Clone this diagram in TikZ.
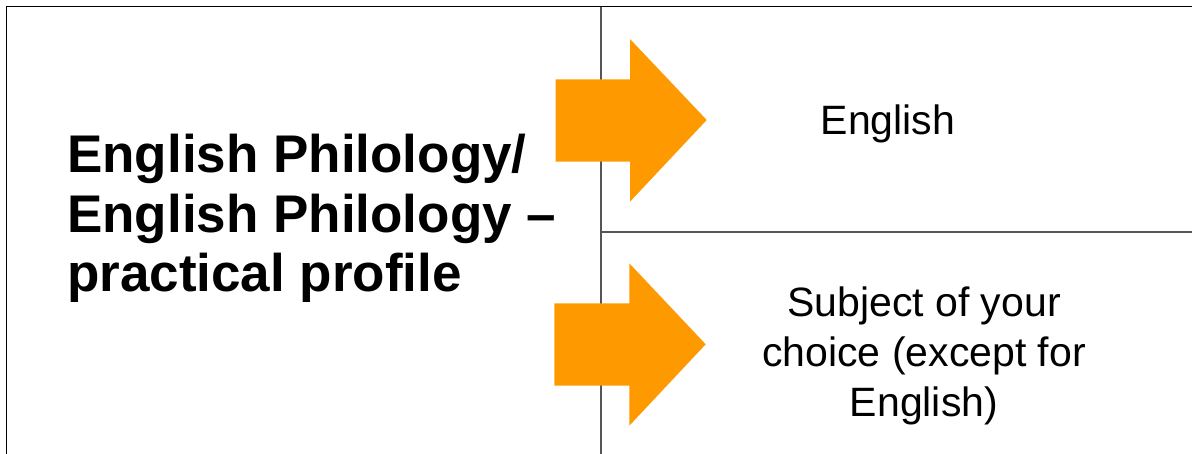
\documentclass[tikz,border=0pt]{standalone}
\usepackage{fontspec}
\setmainfont{Liberation Sans}
\definecolor{arroworange}{RGB}{255,153,0}
\definecolor{rulegray}{RGB}{85,85,85}
\tikzset{
  frameline/.style={draw=black, line width=1.6pt},
  divline/.style={draw=rulegray, line width=1.4pt},
  bigarrow/.style={fill=arroworange, draw=none},
  titletext/.style={inner sep=0pt, align=left, font=\fontsize{53}{59.5}\selectfont\bfseries},
  celltext/.style={inner sep=0pt, align=center, font=\fontsize{41}{49.6}\selectfont},
}
\begin{document}
\begin{tikzpicture}[x=1pt,y=-1pt]
\useasboundingbox (0,0) rectangle (1192,454);
% frame and dividers
\coordinate (tl) at (6.5,6.5);
\coordinate (tr) at (1192,6.5);
\coordinate (bl) at (6.5,454);
\coordinate (mtop) at (601,6.5);
\coordinate (mbot) at (601,454);
\coordinate (hleft) at (601,232);
\coordinate (hright) at (1192,232);
\draw[divline] (mtop) -- (mbot);
\draw[divline] (hleft) -- (hright);
\draw[frameline] (bl) -- (tl) -- (tr);
% arrows
\path[bigarrow] (555.7,79.3) -- (630,79.3) -- (630,39) -- (706.7,120) -- (630,201.7) -- (630,161.7) -- (555.7,161.7) -- cycle;
\path[bigarrow] (554.3,303.3) -- (629.3,303.3) -- (629.3,263.3) -- (705.7,344.3) -- (629.3,425.7) -- (629.3,385.7) -- (554.3,385.7) -- cycle;
% texts (base anchor = baseline of the last line)
\node[titletext, anchor=base west] (title) at (67,291.8) {English Philology/\\English Philology –\\practical profile};
\node[celltext, anchor=base] (english) at (888,135) {English};
\node[celltext, anchor=base] (choice) at (924,416) {Subject of your\\choice (except for\\English)};
\end{tikzpicture}
\end{document}
